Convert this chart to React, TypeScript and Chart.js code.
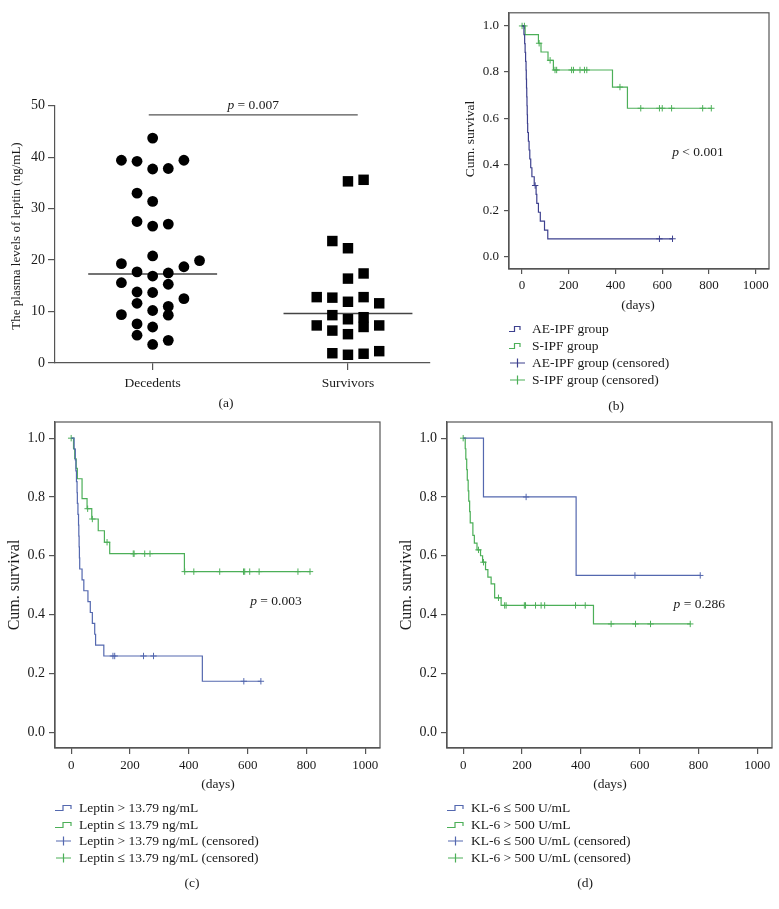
import React, { useEffect, useRef } from "react";
import { Chart, registerables } from "chart.js";
Chart.register(...registerables);

const FONT = "'Liberation Serif', 'Times New Roman', serif";
const PAGE_W = 779;
const PAGE_H = 909;
const Y_W = 40;
const X_H = 30;

// ---------- Panel (a) data ----------
const groupLabels = ["Decedents", "Survivors"];
const leptinTicks = [0, 10, 20, 30, 40, 50];
const decedentsLeptin = [43.7, 39.4, 39.2, 37.7, 37.8, 39.4, 33.0, 31.4, 27.5, 26.6, 27.0, 20.8, 19.3, 19.9, 18.7, 17.7, 16.9, 17.5, 15.6, 15.3, 13.8, 13.7, 12.5, 11.6, 10.2, 11.0, 9.3, 9.4, 7.6, 7.0, 5.4, 4.4, 3.6];
const decedentsColumn = [0, -2, -1, 0, 1, 2, -1, 0, -1, 0, 1, 0, -2, 3, 2, -1, 0, 1, -2, 1, -1, 0, 2, -1, 0, 1, 1, -2, -1, 0, -1, 1, 0];
const survivorsLeptin = [35.3, 35.6, 23.7, 22.3, 16.4, 17.4, 12.8, 12.7, 11.9, 12.8, 11.6, 9.3, 8.5, 8.9, 7.3, 6.3, 5.6, 7.0, 7.3, 1.9, 1.6, 1.8, 2.3];
const survivorsColumn = [0, 1, -1, 0, 0, 1, -2, -1, 0, 1, 2, -1, 0, 1, -2, -1, 0, 1, 2, -1, 0, 1, 2];
const groupMedians = [17.3, 9.6];
const sigLevel = 48.2;
const sigText = "0.007";

// ---------- Kaplan–Meier shared ticks ----------
const kmTickDays = [0, 200, 400, 600, 800, 1000];
const survivalTicks = [0, 0.2, 0.4, 0.6, 0.8, 1.0];

// ---------- Panel (b) ----------
const aeIpfDays = [0, 8, 11, 13, 15, 17, 18, 19, 20, 21, 22, 23, 24, 27, 30, 33, 37, 42, 52, 60, 63, 70, 78, 96, 110, 644];
const aeIpfSurv = [1, 0.962, 0.923, 0.885, 0.846, 0.808, 0.769, 0.731, 0.692, 0.654, 0.615, 0.577, 0.538, 0.5, 0.462, 0.423, 0.385, 0.346, 0.308, 0.27, 0.231, 0.192, 0.154, 0.115, 0.077, 0.077];
const aeIpfCensDays = [56, 588, 644];
const aeIpfCensSurv = [0.308, 0.077, 0.077];
const sIpfDays = [0, 13, 70, 81, 111, 134, 387, 451, 810];
const sIpfSurv = [1, 0.962, 0.925, 0.887, 0.851, 0.809, 0.735, 0.643, 0.643];
const sIpfCensDays = [0, 10, 73, 120, 141, 148, 212, 220, 248, 267, 277, 419, 508, 588, 600, 640, 773, 810];
const sIpfCensSurv = [1, 1, 0.925, 0.851, 0.809, 0.809, 0.809, 0.809, 0.809, 0.809, 0.809, 0.735, 0.643, 0.643, 0.643, 0.643, 0.643, 0.643];

// ---------- Panel (c) ----------
const leptinHighDays = [0, 10, 14, 16, 18, 20, 21, 23, 25, 26, 27, 28, 29, 37, 43, 57, 65, 72, 80, 83, 111, 446, 645];
const leptinHighSurv = [1, 0.963, 0.926, 0.889, 0.852, 0.815, 0.778, 0.741, 0.704, 0.667, 0.63, 0.593, 0.555, 0.518, 0.481, 0.444, 0.407, 0.37, 0.333, 0.296, 0.259, 0.173, 0.173];
const leptinHighCensDays = [142, 148, 246, 280, 587, 645];
const leptinHighCensSurv = [0.259, 0.259, 0.259, 0.259, 0.173, 0.173];
const leptinLowDays = [0, 8, 12, 17, 21, 37, 54, 70, 92, 113, 131, 385, 812];
const leptinLowSurv = [1, 0.964, 0.93, 0.897, 0.862, 0.794, 0.76, 0.725, 0.685, 0.646, 0.607, 0.546, 0.546];
const leptinLowCensDays = [0, 56, 72, 122, 211, 214, 250, 268, 386, 417, 505, 586, 590, 607, 639, 771, 812];
const leptinLowCensSurv = [1, 0.76, 0.725, 0.646, 0.607, 0.607, 0.607, 0.607, 0.546, 0.546, 0.546, 0.546, 0.546, 0.546, 0.546, 0.546, 0.546];

// ---------- Panel (d) ----------
const kl6LowDays = [0, 69, 384, 806];
const kl6LowSurv = [1, 0.8, 0.533, 0.533];
const kl6LowCensDays = [214, 584, 806];
const kl6LowCensSurv = [0.8, 0.533, 0.533];
const kl6HighDays = [0, 7, 9, 12, 14, 17, 19, 22, 24, 33, 38, 47, 59, 66, 76, 84, 95, 107, 129, 443, 772];
const kl6HighSurv = [1, 0.964, 0.929, 0.893, 0.857, 0.821, 0.786, 0.75, 0.712, 0.669, 0.643, 0.62, 0.6, 0.578, 0.553, 0.527, 0.504, 0.457, 0.431, 0.368, 0.368];
const kl6HighCensDays = [0, 52, 69, 120, 141, 146, 208, 212, 246, 265, 277, 382, 415, 503, 586, 637, 772];
const kl6HighCensSurv = [1, 0.62, 0.578, 0.457, 0.431, 0.431, 0.431, 0.431, 0.431, 0.431, 0.431, 0.431, 0.431, 0.368, 0.368, 0.368, 0.368];

const BLUE_B = "#3d408e";
const BLUE = "#5468af";
const GREEN = "#4caf58";
const AXIS = "#555";
const TEXT = "#1a1a1a";

type Part = { t: string; i?: boolean };
type TextItem = { parts: Part[]; x: number; y: number; rotate?: boolean; align?: "center" | "left"; size?: number; dataCoords?: boolean };
type LegendItem = { kind: "step" | "plus"; color: string; x0: number; x1: number; y: number; textX: number; text: string };
type Area = { left: number; top: number; right: number; bottom: number };

function padFor(a: Area) {
  return { left: a.left - Y_W, top: a.top, right: PAGE_W - a.right, bottom: PAGE_H - a.bottom - X_H };
}

function drawRich(ctx: CanvasRenderingContext2D, parts: Part[], x: number, y: number, align: string, size: number) {
  ctx.save();
  ctx.textBaseline = "middle";
  ctx.textAlign = "left";
  ctx.fillStyle = TEXT;
  const fonts = parts.map((p) => `${p.i ? "italic " : ""}${size}px ${FONT}`);
  let total = 0;
  const widths = parts.map((p, k) => {
    ctx.font = fonts[k];
    const w = ctx.measureText(p.t).width;
    total += w;
    return w;
  });
  let cx = align === "center" ? x - total / 2 : x;
  parts.forEach((p, k) => {
    ctx.font = fonts[k];
    ctx.fillText(p.t, cx, y);
    cx += widths[k];
  });
  ctx.restore();
}

function annotationPlugin(texts: TextItem[], legend: LegendItem[], box: boolean) {
  return {
    id: "annot",
    afterDraw(chart: any) {
      const ctx: CanvasRenderingContext2D = chart.ctx;
      const ca = chart.chartArea;
      if (box) {
        ctx.save();
        ctx.strokeStyle = AXIS;
        ctx.lineWidth = 1.2;
        ctx.strokeRect(ca.left, ca.top, ca.right - ca.left, ca.bottom - ca.top);
        ctx.restore();
      }
      texts.forEach((t) => {
        const size = t.size ?? 13;
        let x = t.x;
        let y = t.y;
        if (t.dataCoords) {
          x = chart.scales.x.getPixelForValue(t.x);
          y = chart.scales.y.getPixelForValue(t.y);
        }
        if (t.rotate) {
          ctx.save();
          ctx.translate(x, y);
          ctx.rotate(-Math.PI / 2);
          drawRich(ctx, t.parts, 0, 0, "center", size);
          ctx.restore();
        } else {
          drawRich(ctx, t.parts, x, y, t.align ?? "center", size);
        }
      });
      legend.forEach((l) => {
        ctx.save();
        ctx.strokeStyle = l.color;
        ctx.lineWidth = 1.2;
        ctx.beginPath();
        if (l.kind === "step") {
          const mid = (l.x0 + l.x1) / 2;
          ctx.moveTo(l.x0, l.y + 2.5);
          ctx.lineTo(mid, l.y + 2.5);
          ctx.lineTo(mid, l.y - 2.5);
          ctx.lineTo(l.x1, l.y - 2.5);
          ctx.lineTo(l.x1, l.y + 1);
        } else {
          const mid = (l.x0 + l.x1) / 2;
          ctx.moveTo(l.x0, l.y);
          ctx.lineTo(l.x1, l.y);
          ctx.moveTo(mid, l.y - 4.5);
          ctx.lineTo(mid, l.y + 4.5);
        }
        ctx.stroke();
        ctx.restore();
        drawRich(ctx, [{ t: l.text }], l.textX, l.y, "left", 13.5);
      });
    },
  };
}

function axisCommon(tickLength: number, padding: number, size: number) {
  return {
    grid: { drawOnChartArea: false, drawTicks: true, tickLength, color: AXIS, lineWidth: 1.2 },
    border: { display: true, color: AXIS, width: 1.2 },
    ticks: { font: { family: FONT, size }, color: TEXT, padding, autoSkip: false, maxRotation: 0 },
  };
}

function buildPanelA(canvas: HTMLCanvasElement) {
  const area: Area = { left: 55, top: 105.7, right: 430, bottom: 363 };
  const JIT = 0.08;
  const dec = decedentsLeptin.map((v, i) => ({ x: 1 + decedentsColumn[i] * JIT, y: v }));
  const sur = survivorsLeptin.map((v, i) => ({ x: 2 + survivorsColumn[i] * JIT, y: v }));
  const medianHalf = 0.33;
  const xa = axisCommon(7, 5, 13.5);
  const ya = axisCommon(7, 3, 14);
  const texts: TextItem[] = [
    { parts: [{ t: "The plasma levels of leptin (ng/mL)" }], x: 17, y: 236, rotate: true },
    { parts: [{ t: "(a)" }], x: 226, y: 403, size: 13.5 },
    { parts: [{ t: "p", i: true }, { t: " = " + sigText }], x: 1.515, y: 50, dataCoords: true, size: 13.5 },
  ];
  return new Chart(canvas, {
    type: "scatter",
    data: {
      datasets: [
        { data: dec, pointStyle: "circle", pointRadius: 5.4, backgroundColor: "#000", borderWidth: 0, clip: false } as any,
        { data: sur, pointStyle: "rect", pointRadius: 7.4, backgroundColor: "#000", borderWidth: 0, clip: false } as any,
        { data: [{ x: 1 - medianHalf, y: groupMedians[0] }, { x: 1 + medianHalf, y: groupMedians[0] }], showLine: true, borderColor: "#444", borderWidth: 1.5, pointRadius: 0 } as any,
        { data: [{ x: 2 - medianHalf, y: groupMedians[1] }, { x: 2 + medianHalf, y: groupMedians[1] }], showLine: true, borderColor: "#444", borderWidth: 1.5, pointRadius: 0 } as any,
        { data: [{ x: 0.98, y: sigLevel }, { x: 2.05, y: sigLevel }], showLine: true, borderColor: "#555", borderWidth: 1.3, pointRadius: 0 } as any,
      ],
    },
    options: {
      responsive: false,
      animation: false,
      devicePixelRatio: 1,
      events: [],
      layout: { padding: padFor(area) },
      plugins: { legend: { display: false }, tooltip: { enabled: false } },
      scales: {
        x: {
          type: "linear",
          min: 0.5,
          max: 2.42,
          ...xa,
          afterBuildTicks: (s: any) => { s.ticks = [1, 2].map((v) => ({ value: v })); },
          afterFit: (s: any) => { s.height = X_H; },
          ticks: { ...xa.ticks, callback: (v: any) => groupLabels[Math.round(Number(v)) - 1] ?? "" },
        },
        y: {
          type: "linear",
          min: 0,
          max: 50,
          ...ya,
          afterBuildTicks: (s: any) => { s.ticks = leptinTicks.map((v) => ({ value: v })); },
          afterFit: (s: any) => { s.width = Y_W; },
          ticks: { ...ya.ticks, callback: (v: any) => String(v) },
        },
      },
    } as any,
    plugins: [annotationPlugin(texts, [], false)],
  });
}

type Series = { days: number[]; surv: number[]; cDays: number[]; cSurv: number[]; color: string };

function buildKM(canvas: HTMLCanvasElement, area: Area, xMin: number, xMax: number, series: Series[], texts: TextItem[], legend: LegendItem[], xTick: number, xPad: number, yTick: number, yPad: number, yFont: number) {
  const datasets: any[] = [];
  series.forEach((s) => {
    datasets.push({
      type: "line",
      data: s.days.map((d, i) => ({ x: d, y: s.surv[i] })),
      stepped: true,
      borderColor: s.color,
      borderWidth: 1.2,
      pointRadius: 0,
      fill: false,
    });
  });
  series.forEach((s) => {
    datasets.push({
      type: "scatter",
      data: s.cDays.map((d, i) => ({ x: d, y: s.cSurv[i] })),
      pointStyle: "cross",
      pointRadius: 3.2,
      borderColor: s.color,
      borderWidth: 1,
      clip: false,
    });
  });
  const xa = axisCommon(xTick, xPad, 13);
  const ya = axisCommon(yTick, yPad, yFont);
  return new Chart(canvas, {
    type: "scatter",
    data: { datasets },
    options: {
      responsive: false,
      animation: false,
      devicePixelRatio: 1,
      events: [],
      layout: { padding: padFor(area) },
      plugins: { legend: { display: false }, tooltip: { enabled: false } },
      scales: {
        x: {
          type: "linear",
          min: xMin,
          max: xMax,
          ...xa,
          afterBuildTicks: (s: any) => { s.ticks = kmTickDays.map((v) => ({ value: v })); },
          afterFit: (s: any) => { s.height = X_H; },
          ticks: { ...xa.ticks, callback: (v: any) => String(v) },
        },
        y: {
          type: "linear",
          min: -0.054,
          max: area.top < 50 ? 1.057 : 1.055,
          ...ya,
          afterBuildTicks: (s: any) => { s.ticks = survivalTicks.map((v) => ({ value: v })); },
          afterFit: (s: any) => { s.width = Y_W; },
          ticks: { ...ya.ticks, callback: (v: any) => Number(v).toFixed(1) },
        },
      },
    } as any,
    plugins: [annotationPlugin(texts, legend, true)],
  });
}

function legendRows(labels: string[], colors: string[], kinds: ("step" | "plus")[], ys: number[], x0Step: number, x1Step: number, x0Plus: number, x1Plus: number, textX: number): LegendItem[] {
  return labels.map((text, i) => ({
    kind: kinds[i],
    color: colors[i],
    x0: kinds[i] === "step" ? x0Step : x0Plus,
    x1: kinds[i] === "step" ? x1Step : x1Plus,
    y: ys[i],
    textX,
    text,
  }));
}

export default function App() {
  const r0 = useRef<HTMLCanvasElement>(null);
  const r1 = useRef<HTMLCanvasElement>(null);
  const r2 = useRef<HTMLCanvasElement>(null);
  const r3 = useRef<HTMLCanvasElement>(null);

  useEffect(() => {
    const charts: Chart[] = [];
    charts.push(buildPanelA(r0.current!));

    const kinds: ("step" | "plus")[] = ["step", "step", "plus", "plus"];

    charts.push(
      buildKM(
        r1.current!,
        { left: 509, top: 8, right: 769, bottom: 269 },
        -56,
        1057,
        [
          { days: aeIpfDays, surv: aeIpfSurv, cDays: aeIpfCensDays, cSurv: aeIpfCensSurv, color: BLUE_B },
          { days: sIpfDays, surv: sIpfSurv, cDays: sIpfCensDays, cSurv: sIpfCensSurv, color: GREEN },
        ],
        [
          { parts: [{ t: "Cum. survival" }], x: 470, y: 139, rotate: true, size: 13.5 },
          { parts: [{ t: "p", i: true }, { t: " < 0.001" }], x: 753, y: 0.452, dataCoords: true, size: 13.5 },
          { parts: [{ t: "(days)" }], x: 638, y: 305, size: 13.5 },
          { parts: [{ t: "(b)" }], x: 616, y: 406, size: 13.5 },
        ],
        legendRows(
          ["AE-IPF group", "S-IPF group", "AE-IPF group (censored)", "S-IPF group (censored)"],
          [BLUE_B, GREEN, BLUE_B, GREEN],
          kinds,
          [329, 346, 363, 380],
          509, 520, 510, 525, 532
        ),
        5, 4, 5, 5, 13
      )
    );

    charts.push(
      buildKM(
        r2.current!,
        { left: 55, top: 422, right: 380, bottom: 748 },
        -55,
        1050,
        [
          { days: leptinHighDays, surv: leptinHighSurv, cDays: leptinHighCensDays, cSurv: leptinHighCensSurv, color: BLUE },
          { days: leptinLowDays, surv: leptinLowSurv, cDays: leptinLowCensDays, cSurv: leptinLowCensSurv, color: GREEN },
        ],
        [
          { parts: [{ t: "Cum. survival" }], x: 15, y: 585, rotate: true, size: 16 },
          { parts: [{ t: "p", i: true }, { t: " = 0.003" }], x: 696, y: 0.446, dataCoords: true, size: 13.5 },
          { parts: [{ t: "(days)" }], x: 218, y: 784, size: 13.5 },
          { parts: [{ t: "(c)" }], x: 192, y: 883, size: 13.5 },
        ],
        legendRows(
          ["Leptin > 13.79 ng/mL", "Leptin \u2264 13.79 ng/mL", "Leptin > 13.79 ng/mL (censored)", "Leptin \u2264 13.79 ng/mL (censored)"],
          [BLUE, GREEN, BLUE, GREEN],
          kinds,
          [808, 825, 841, 858],
          55, 71, 56, 71, 79
        ),
        6, 4, 6, 4, 14
      )
    );

    charts.push(
      buildKM(
        r3.current!,
        { left: 447, top: 422, right: 772, bottom: 748 },
        -55,
        1050,
        [
          { days: kl6LowDays, surv: kl6LowSurv, cDays: kl6LowCensDays, cSurv: kl6LowCensSurv, color: BLUE },
          { days: kl6HighDays, surv: kl6HighSurv, cDays: kl6HighCensDays, cSurv: kl6HighCensSurv, color: GREEN },
        ],
        [
          { parts: [{ t: "Cum. survival" }], x: 407, y: 585, rotate: true, size: 16 },
          { parts: [{ t: "p", i: true }, { t: " = 0.286" }], x: 803, y: 0.436, dataCoords: true, size: 13.5 },
          { parts: [{ t: "(days)" }], x: 610, y: 784, size: 13.5 },
          { parts: [{ t: "(d)" }], x: 585, y: 883, size: 13.5 },
        ],
        legendRows(
          ["KL-6 \u2264 500 U/mL", "KL-6 > 500 U/mL", "KL-6 \u2264 500 U/mL (censored)", "KL-6 > 500 U/mL (censored)"],
          [BLUE, GREEN, BLUE, GREEN],
          kinds,
          [808, 825, 841, 858],
          447, 463, 448, 463, 471
        ),
        6, 4, 6, 4, 14
      )
    );

    return () => charts.forEach((c) => c.destroy());
  }, []);

  const cs: React.CSSProperties = { position: "absolute", left: 0, top: 0, width: PAGE_W, height: PAGE_H };
  return (
    <div style={{ position: "absolute", left: 0, top: 0, width: PAGE_W, height: PAGE_H, background: "#fff", overflow: "hidden" }}>
      <canvas ref={r0} width={PAGE_W} height={PAGE_H} style={cs} />
      <canvas ref={r1} width={PAGE_W} height={PAGE_H} style={cs} />
      <canvas ref={r2} width={PAGE_W} height={PAGE_H} style={cs} />
      <canvas ref={r3} width={PAGE_W} height={PAGE_H} style={cs} />
    </div>
  );
}
